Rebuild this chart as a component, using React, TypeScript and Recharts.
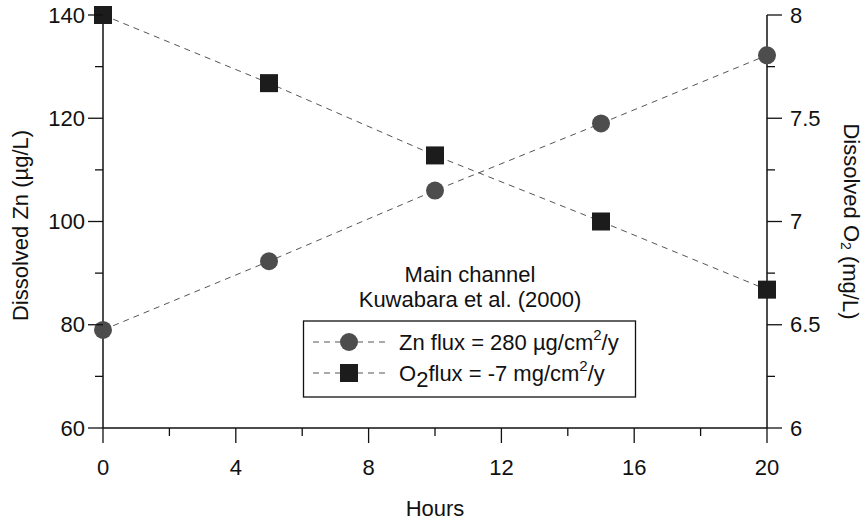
import React from 'react';
import {
  ComposedChart,
  Line,
  XAxis,
  YAxis,
  Label,
} from 'recharts';

// time axis (hours) and the two measured series
const hours = [0, 5, 10, 15, 20];
const zincValues = [79, 92.3, 106, 119, 132.2];
const oxygenValues = [8, 7.67, 7.32, 7.0, 6.67];

// tick positions, every other one carries a label
const hourTicks = [0, 2, 4, 6, 8, 10, 12, 14, 16, 18, 20];
const hourLabels = [0, 4, 8, 12, 16, 20];
const zincTicks = [60, 70, 80, 90, 100, 110, 120, 130, 140];
const zincLabels = [60, 80, 100, 120, 140];
const oxygenTicks = [6, 6.25, 6.5, 6.75, 7, 7.25, 7.5, 7.75, 8];
const oxygenLabels = [6, 6.5, 7, 7.5, 8];

const titleLines = ['Main channel', 'Kuwabara et al. (2000)'];

const data = hours.map((t, i) => ({ t, zn: zincValues[i], o2: oxygenValues[i] }));

const FONT = '"Liberation Sans", Arial, Helvetica, sans-serif';
const FS = 22;
const INK = '#111';
const CIRCLE_FILL = '#4d4d4d';
const SQUARE_FILL = '#1c1c1c';
const DASH = '#555';

const MAJOR = 15;
const MINOR = 8;

const LeftTick = ({ x, y, payload }: any) => {
  const major = zincLabels.includes(payload.value);
  const len = major ? MAJOR : MINOR;
  return (
    <g>
      <line x1={x} x2={x - len} y1={y} y2={y} stroke={INK} strokeWidth={1.3} />
      {major && (
        <text x={x - len - 3} y={y} textAnchor="end" dominantBaseline="central"
          fontFamily={FONT} fontSize={FS} fill={INK}>
          {payload.value}
        </text>
      )}
    </g>
  );
};

const RightTick = ({ x, y, payload }: any) => {
  const major = oxygenLabels.includes(payload.value);
  const len = major ? MAJOR : MINOR;
  return (
    <g>
      <line x1={x} x2={x + len} y1={y} y2={y} stroke={INK} strokeWidth={1.3} />
      {major && (
        <text x={x + len + 8} y={y} textAnchor="start" dominantBaseline="central"
          fontFamily={FONT} fontSize={FS} fill={INK}>
          {payload.value}
        </text>
      )}
    </g>
  );
};

const BottomTick = ({ x, y, payload }: any) => {
  const major = hourLabels.includes(payload.value);
  const len = major ? MAJOR : MINOR;
  return (
    <g>
      <line x1={x} x2={x} y1={y} y2={y + len} stroke={INK} strokeWidth={1.3} />
      {major && (
        <text x={x} y={y + 39} textAnchor="middle" dominantBaseline="central"
          fontFamily={FONT} fontSize={FS} fill={INK}>
          {payload.value}
        </text>
      )}
    </g>
  );
};

const CircleDot = ({ cx, cy }: any) => (
  <circle cx={cx} cy={cy} r={9} fill={CIRCLE_FILL} />
);

const SquareDot = ({ cx, cy }: any) => (
  <rect x={cx - 9} y={cy - 9} width={18} height={18} fill={SQUARE_FILL} />
);

// caption plus the boxed key, laid over the middle of the plot
const KeyBox = () => (
  <svg width={340} height={145} style={{ position: 'absolute', left: 303, top: 255, overflow: 'visible' }}>
    {titleLines.map((line, i) => (
      <text key={line} x={167} y={19 + i * 25} textAnchor="middle" dominantBaseline="central"
        fontFamily={FONT} fontSize={FS} fill={INK}>
        {line}
      </text>
    ))}
    <rect x={0.5} y={66} width={332} height={76} fill="#fff" stroke={INK} strokeWidth={1.3} />
    <line x1={10} x2={86} y1={87} y2={87} stroke={DASH} strokeDasharray="6 5" />
    <circle cx={46} cy={87} r={9} fill={CIRCLE_FILL} />
    <text x={96} y={87} dominantBaseline="central" fontFamily={FONT} fontSize={FS} fill={INK}>
      Zn flux = 280 µg/cm
      <tspan dy={-8} fontSize={15}>2</tspan>
      <tspan dy={8}>/y</tspan>
    </text>
    <line x1={10} x2={86} y1={118} y2={118} stroke={DASH} strokeDasharray="6 5" />
    <rect x={37} y={109} width={18} height={18} fill={SQUARE_FILL} />
    <text x={96} y={118} dominantBaseline="central" fontFamily={FONT} fontSize={FS} fill={INK}>
      O
      <tspan dy={6}>2</tspan>
      <tspan dy={-6}>flux = -7 mg/cm</tspan>
      <tspan dy={-8} fontSize={15}>2</tspan>
      <tspan dy={8}>/y</tspan>
    </text>
  </svg>
);

const LeftTitle = ({ viewBox }: any) => {
  const cx = viewBox.x + 20;
  const cy = viewBox.y + viewBox.height / 2 + 4;
  return (
    <text x={cx} y={cy} transform={`rotate(-90 ${cx} ${cy})`} textAnchor="middle"
      dominantBaseline="central" fontFamily={FONT} fontSize={FS} fill={INK}>
      Dissolved Zn (µg/L)
    </text>
  );
};

const RightTitle = ({ viewBox }: any) => {
  const cx = viewBox.x + 84;
  const cy = viewBox.y + viewBox.height / 2;
  return (
    <text x={cx} y={cy} transform={`rotate(90 ${cx} ${cy})`} textAnchor="middle"
      dominantBaseline="central" fontFamily={FONT} fontSize={FS} fill={INK}>
      Dissolved O
      <tspan dy={5} fontSize={14}>2</tspan>
      <tspan dy={-5}> (mg/L)</tspan>
    </text>
  );
};

const BottomTitle = ({ viewBox }: any) => (
  <text x={viewBox.x + viewBox.width / 2} y={viewBox.y + 80} textAnchor="middle"
    dominantBaseline="central" fontFamily={FONT} fontSize={FS} fill={INK}>
    Hours
  </text>
);

export default function App() {
  return (
    <div style={{ position: 'absolute', left: 0, top: 0, width: 866, height: 522, background: '#fff' }}>
      <ComposedChart
        width={866}
        height={522}
        data={data}
        margin={{ top: 15, right: 0, bottom: 0, left: 0 }}
      >
        <XAxis
          dataKey="t"
          type="number"
          domain={[0, 20]}
          ticks={hourTicks}
          interval={0}
          height={94}
          tickSize={0}
          tickMargin={0}
          tick={<BottomTick />}
          axisLine={{ stroke: INK, strokeWidth: 1.5 }}
        >
          <Label content={<BottomTitle />} />
        </XAxis>
        <YAxis
          yAxisId="zn"
          orientation="left"
          type="number"
          domain={[60, 140]}
          ticks={zincTicks}
          interval={0}
          width={103}
          tickSize={0}
          tickMargin={0}
          tick={<LeftTick />}
          axisLine={{ stroke: INK, strokeWidth: 1.5 }}
        >
          <Label content={<LeftTitle />} />
        </YAxis>
        <YAxis
          yAxisId="o2"
          orientation="right"
          type="number"
          domain={[6, 8]}
          ticks={oxygenTicks}
          interval={0}
          width={99}
          tickSize={0}
          tickMargin={0}
          tick={<RightTick />}
          axisLine={{ stroke: INK, strokeWidth: 1.5 }}
        >
          <Label content={<RightTitle />} />
        </YAxis>
        <Line
          yAxisId="zn"
          dataKey="zn"
          type="linear"
          stroke={DASH}
          strokeWidth={1}
          strokeDasharray="6 5"
          dot={<CircleDot />}
          activeDot={false}
          isAnimationActive={false}
        />
        <Line
          yAxisId="o2"
          dataKey="o2"
          type="linear"
          stroke={DASH}
          strokeWidth={1}
          strokeDasharray="6 5"
          dot={<SquareDot />}
          activeDot={false}
          isAnimationActive={false}
        />
      </ComposedChart>
      <KeyBox />
    </div>
  );
}
